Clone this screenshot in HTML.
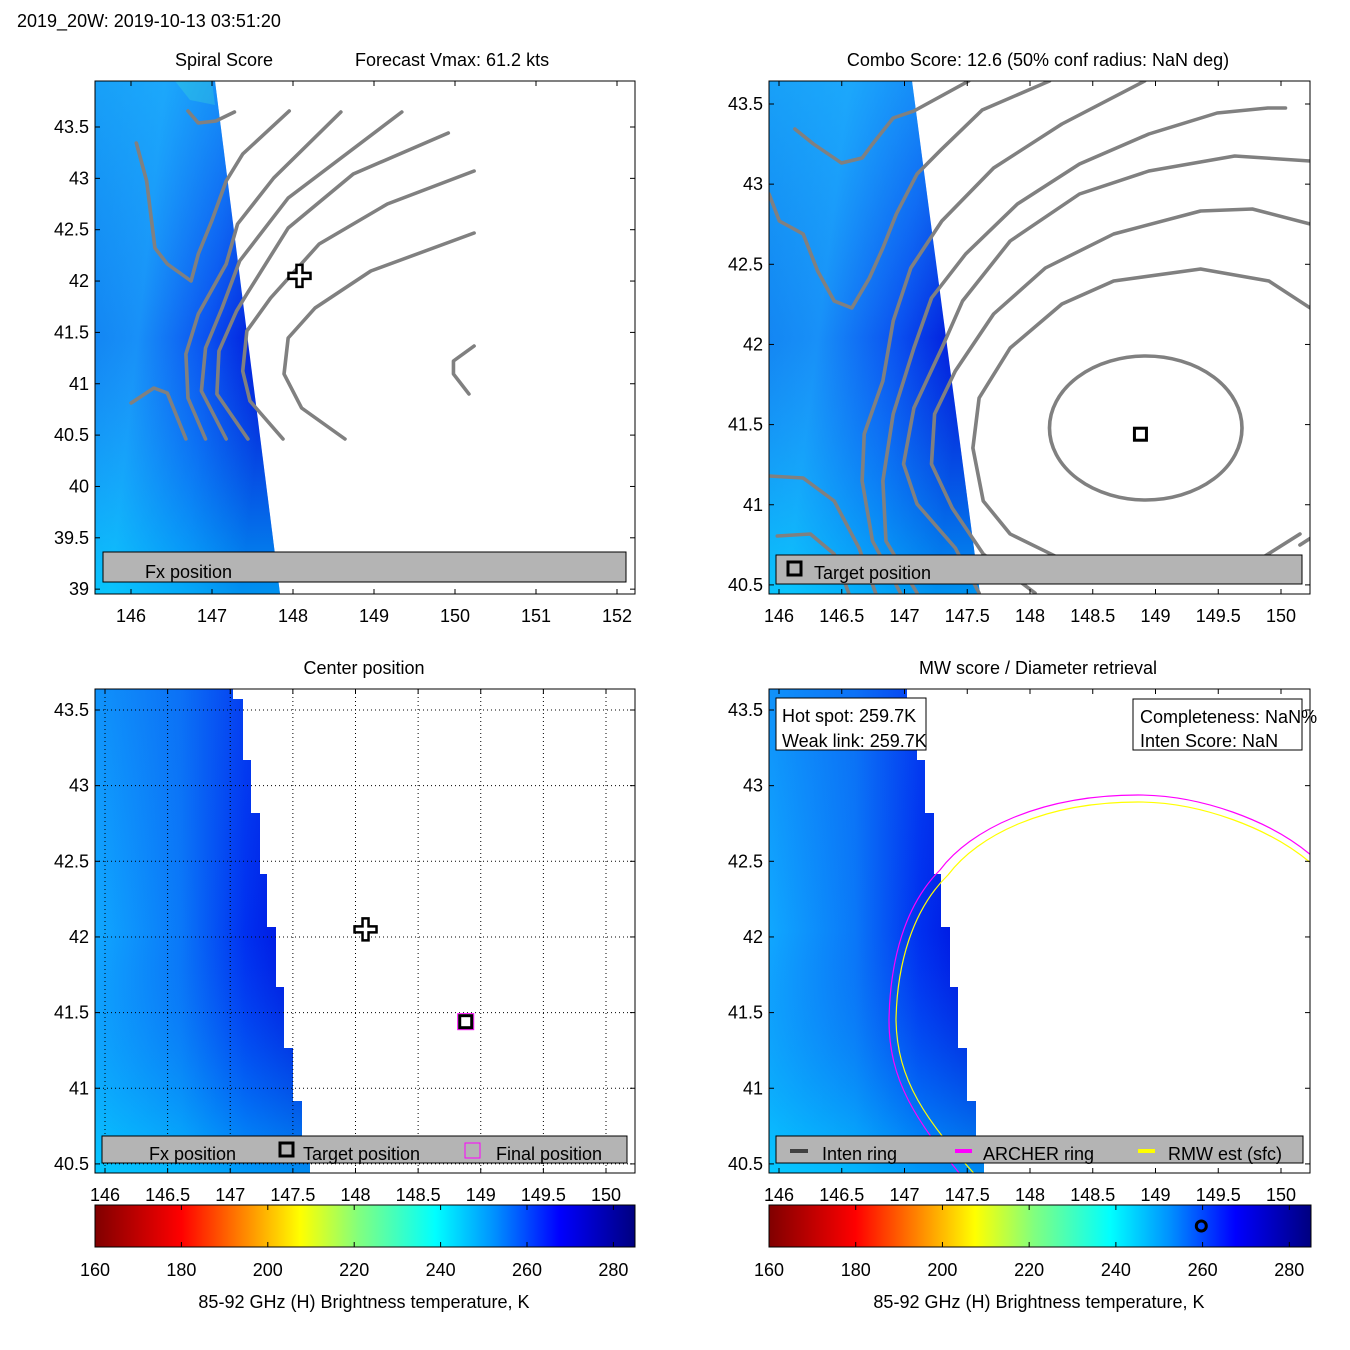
<!DOCTYPE html>
<html><head><meta charset="utf-8">
<style>
html,body{margin:0;padding:0;background:#fff;}
svg{display:block;font-family:"Liberation Sans",Arial,sans-serif;}
text{fill:#000;}
</style></head>
<body>
<svg id="fig" width="1350" height="1350" viewBox="0 0 1350 1350" xmlns="http://www.w3.org/2000/svg">
<defs>
<linearGradient id="jet" x1="0" y1="0" x2="1" y2="0">
<stop offset="0" stop-color="#800000"/><stop offset="0.16" stop-color="#ff0000"/>
<stop offset="0.27" stop-color="#ff8000"/><stop offset="0.38" stop-color="#ffff00"/>
<stop offset="0.49" stop-color="#80ff80"/><stop offset="0.63" stop-color="#00ffff"/>
<stop offset="0.74" stop-color="#0090ff"/><stop offset="0.86" stop-color="#0000ff"/>
<stop offset="1" stop-color="#000080"/></linearGradient>
<linearGradient id="sw1" x1="0" y1="0" x2="1" y2="0.3">
<stop offset="0" stop-color="#1080f0"/><stop offset="0.35" stop-color="#1890f8"/>
<stop offset="0.7" stop-color="#0a50f0"/><stop offset="1" stop-color="#0010d8"/></linearGradient>
<linearGradient id="sw1b" x1="0" y1="0" x2="0" y2="1">
<stop offset="0" stop-color="#20c0ff" stop-opacity="0.5"/><stop offset="0.5" stop-color="#20c0ff" stop-opacity="0"/>
<stop offset="1" stop-color="#00e8ff" stop-opacity="0.6"/></linearGradient>
<linearGradient id="sw3" x1="0" y1="0" x2="1" y2="0">
<stop offset="0" stop-color="#10a8ff"/><stop offset="0.4" stop-color="#0a78f8"/>
<stop offset="0.7" stop-color="#0030f0"/><stop offset="1" stop-color="#0008d8"/></linearGradient>
<linearGradient id="sw3b" x1="0" y1="0" x2="0" y2="1">
<stop offset="0" stop-color="#1060f0" stop-opacity="0.3"/><stop offset="0.5" stop-color="#1060f0" stop-opacity="0"/>
<stop offset="1" stop-color="#00e0ff" stop-opacity="0.6"/></linearGradient>
<clipPath id="c1"><rect x="95" y="81" width="540" height="513"/></clipPath>
<clipPath id="c2"><rect x="769" y="81" width="541" height="513"/></clipPath>
<clipPath id="c3"><rect x="95" y="689" width="540" height="484"/></clipPath>
<clipPath id="c4"><rect x="769" y="689" width="541" height="484"/></clipPath>
</defs>

<text x="17" y="27" font-size="18">2019_20W: 2019-10-13 03:51:20</text>
<text x="175" y="66" font-size="18">Spiral Score</text>
<text x="355" y="66" font-size="18">Forecast Vmax: 61.2 kts</text>
<text x="1038" y="66" font-size="18" text-anchor="middle">Combo Score: 12.6  (50% conf radius: NaN deg)</text>
<text x="364" y="674" font-size="18" text-anchor="middle">Center position</text>
<text x="1038" y="674" font-size="18" text-anchor="middle">MW score / Diameter retrieval</text>

<!-- Panel 1 swath -->
<g clip-path="url(#c1)">
<polygon points="95,81 215,81 280,594 95,594" fill="url(#sw1)"/>
<polygon points="95,81 215,81 280,594 95,594" fill="url(#sw1b)"/>
<polygon points="175,81 212,81 215,105 190,100" fill="#40e0d0" opacity="0.3"/>
</g>
<g clip-path="url(#c1)">
<g transform="translate(95,0) scale(1.033,1) translate(-95,0)" fill="none" stroke="#808080" stroke-width="3.5" stroke-linejoin="round" stroke-linecap="round">
<polyline points="185,111 195,123 212,121 230,112"/>
<polyline points="135,143 145,181 153,248 165,264 188,281 195,254 208,221 222,181 238,154 283,111"/>
<polyline points="130,403 152,388 165,393 183,439"/>
<polyline points="202,439 185,398 183,354 195,314 222,264 233,224 268,178 333,112"/>
<polyline points="222,439 198,391 202,348 218,308 235,261 282,198 392,112"/>
<polyline points="243,439 213,394 215,351 232,311 242,294 282,228 345,174 437,133"/>
<polyline points="277,439 245,401 238,371 242,331 265,298 312,244 378,204 462,171"/>
<polyline points="337,439 295,408 278,374 282,338 308,308 362,271 462,233"/>
<polyline points="462,346 442,361 442,374 457,394"/>
</g></g>

<!-- Panel 2 swath -->
<g clip-path="url(#c2)">
<polygon points="769,81 912,81 980,594 769,594" fill="url(#sw1)"/>
<polygon points="769,81 912,81 980,594 769,594" fill="url(#sw1b)"/>
</g>
<g clip-path="url(#c2)">
<g transform="translate(769,0) scale(1.035,1) translate(-769,0)" fill="none" stroke="#808080" stroke-width="3.5" stroke-linejoin="round" stroke-linecap="round">
<ellipse cx="1133" cy="428" rx="93" ry="72"/>
<polyline points="1282,534 1236,564 1152,579 1069,568 1002,534 976,501 966,448 972,398 1002,348 1052,304 1102,281 1186,269 1252,281 1292,308 1312,325"/>
<polyline points="1026,593 976,554 946,508 926,464 929,414 949,371 986,314 1036,268 1102,234 1186,211 1236,209 1292,224 1312,228"/>
<polyline points="972,593 949,548 912,504 899,464 909,408 936,348 956,301 1002,241 1069,194 1136,171 1219,156 1292,161 1312,162"/>
<polyline points="912,593 882,541 879,481 889,414 909,348 926,298 959,254 1009,204 1069,164 1136,134 1202,113 1251,108 1268,108"/>
<polyline points="896,593 869,541 859,481 861,434 879,381 889,321 906,268 936,221 986,168 1052,124 1132,81"/>
<polyline points="769,476 802,478 832,501 856,548 872,593"/>
<polyline points="777,536 809,534 832,554 846,593"/>
<polyline points="794,129 812,144 839,163 859,158 869,144 889,118 909,111 962,81"/>
<polyline points="769,194 779,221 802,234 816,271 832,301 849,308 866,278 879,248 892,214 912,174 935,150 975,110 1040,81"/>
<polyline points="1282,545 1300,533"/>
</g></g>

<!-- Panel 3 swath -->
<g clip-path="url(#c3)">
<polygon points="95,689 233,689 233,699 243,699 243,760 251,760 251,813 260,813 260,874 267,874 267,927 276,927 276,987 284,987 284,1048 293,1048 293,1101 302,1101 302,1136 310,1136 310,1173 95,1173" fill="url(#sw3)"/>
<polygon points="95,689 233,689 233,699 243,699 243,760 251,760 251,813 260,813 260,874 267,874 267,927 276,927 276,987 284,987 284,1048 293,1048 293,1101 302,1101 302,1136 310,1136 310,1173 95,1173" fill="url(#sw3b)"/>
</g>
<g id="grid3"></g>

<!-- Panel 4 swath -->
<g clip-path="url(#c4)">
<polygon points="769,689 907,689 907,699 917,699 917,760 925,760 925,813 934,813 934,874 941,874 941,927 950,927 950,987 958,987 958,1048 967,1048 967,1101 976,1101 976,1136 984,1136 984,1173 769,1173" fill="url(#sw3)"/>
<polygon points="769,689 907,689 907,699 917,699 917,760 925,760 925,813 934,813 934,874 941,874 941,927 950,927 950,987 958,987 958,1048 967,1048 967,1101 976,1101 976,1136 984,1136 984,1173 769,1173" fill="url(#sw3b)"/>
</g>
<g clip-path="url(#c4)" fill="none" stroke-width="1.2">
<path d="M1312,856 C1270,820 1200,795 1138,795 C1040,795 970,830 940,870 C905,905 890,960 889,1020 C889,1080 915,1120 965,1180" stroke="#ff00ff"/>
<path d="M1312,864 C1270,828 1200,802 1138,802 C1045,802 978,835 948,875 C912,910 897,965 896,1020 C897,1080 925,1120 980,1180" stroke="#ffff00"/>
</g>

<g id="marks"></g>
<g id="axes"></g>

<!-- legends -->
<g>
<rect x="103" y="552" width="523" height="30" fill="#b4b4b4" stroke="#000" stroke-width="1"/>
<text x="145" y="578" font-size="18">Fx position</text>
</g>
<g>
<rect x="776" y="555" width="526" height="29" fill="#b4b4b4" stroke="#000" stroke-width="1"/>
<rect x="788" y="562" width="13" height="13" fill="#b4b4b4" stroke="#000" stroke-width="3"/>
<text x="814" y="579" font-size="18">Target position</text>
</g>
<g>
<rect x="102" y="1136" width="525" height="27" fill="#b4b4b4" stroke="#000" stroke-width="1"/>
<text x="149" y="1160" font-size="18">Fx position</text>
<rect x="280" y="1143" width="13" height="13" fill="#b4b4b4" stroke="#000" stroke-width="3"/>
<text x="303" y="1160" font-size="18">Target position</text>
<rect x="465" y="1143" width="15" height="15" fill="none" stroke="#ff00ff" stroke-width="1"/>
<text x="496" y="1160" font-size="18">Final position</text>
</g>
<g>
<rect x="776" y="1136" width="527" height="27" fill="#b4b4b4" stroke="#000" stroke-width="1"/>
<rect x="790" y="1149" width="18" height="4" fill="#404040"/>
<text x="822" y="1160" font-size="18">Inten ring</text>
<rect x="955" y="1149" width="17" height="4" fill="#ff00ff"/>
<text x="983" y="1160" font-size="18">ARCHER ring</text>
<rect x="1138" y="1149" width="17" height="4" fill="#ffff00"/>
<text x="1168" y="1160" font-size="18">RMW est (sfc)</text>
</g>
<g>
<rect x="776" y="698" width="150" height="52" fill="#fff" stroke="#000" stroke-width="1"/>
<text x="782" y="722" font-size="18">Hot spot: 259.7K</text>
<text x="782" y="747" font-size="18">Weak link: 259.7K</text>
</g>
<g>
<rect x="1133" y="699" width="169" height="51" fill="#fff" stroke="#000" stroke-width="1"/>
<text x="1140" y="723" font-size="18">Completeness: NaN%</text>
<text x="1140" y="747" font-size="18">Inten Score: NaN</text>
</g>

<!-- colorbars -->
<rect x="95" y="1205" width="540" height="42" fill="url(#jet)" stroke="#000" stroke-width="1"/>
<rect x="769" y="1205" width="542" height="42" fill="url(#jet)" stroke="#000" stroke-width="1"/>
<g id="cb"></g>
<text x="364" y="1308" font-size="18" text-anchor="middle">85-92 GHz (H) Brightness temperature, K</text>
<text x="1039" y="1308" font-size="18" text-anchor="middle">85-92 GHz (H) Brightness temperature, K</text>
</svg>
<script>
const xTicks1 = [146,147,148,149,150,151,152];
const yTicks1 = [39,39.5,40,40.5,41,41.5,42,42.5,43,43.5];
const xTicks2 = [146,146.5,147,147.5,148,148.5,149,149.5,150];
const yTicks2 = [40.5,41,41.5,42,42.5,43,43.5];
const cbTicks = [160,180,200,220,240,260,280];
const fxLon = [148.08], fxLat = [42.05];
const tgtLon = [148.88], tgtLat = [41.44];
const hotSpotK = [259.7];

const NS='http://www.w3.org/2000/svg';
function mk(tag, attrs, parent){const e=document.createElementNS(NS,tag);for(const k in attrs)e.setAttribute(k,attrs[k]);parent.appendChild(e);return e;}
const P = [
 {x0:95,y0:81,w:540,h:513,lx:146,px:131,sx:81,ly:43.5,py:127,sy:102.7,xt:xTicks1,yt:yTicks1,grid:false,id:'spiral'},
 {x0:769,y0:81,w:541,h:513,lx:146,px:779,sx:125.5,ly:43.5,py:104,sy:160.3,xt:xTicks2,yt:yTicks2,grid:false,id:'combo'},
 {x0:95,y0:689,w:540,h:484,lx:146,px:105,sx:125.25,ly:43.5,py:710,sy:151.3,xt:xTicks2,yt:yTicks2,grid:true,id:'center'},
 {x0:769,y0:689,w:541,h:484,lx:146,px:779,sx:125.5,ly:43.5,py:710,sy:151.3,xt:xTicks2,yt:yTicks2,grid:false,id:'mw'}
];
function X(p,v){return p.px+(v-p.lx)*p.sx;}
function Y(p,v){return p.py-(v-p.ly)*p.sy;}
const ax=document.getElementById('axes');
const g3=document.getElementById('grid3');
P.forEach(p=>{
  const box=mk('rect',{x:p.x0,y:p.y0,width:p.w,height:p.h,fill:'none',stroke:'#000','stroke-width':1},ax);
  
  
  p.xt.forEach(v=>{
    const x=X(p,v);
    mk('line',{x1:x,y1:p.y0,x2:x,y2:p.y0+5,stroke:'#000'},ax);
    mk('line',{x1:x,y1:p.y0+p.h,x2:x,y2:p.y0+p.h-5,stroke:'#000'},ax);
    if(p.grid) mk('line',{x1:x,y1:p.y0,x2:x,y2:p.y0+p.h,stroke:'#000','stroke-dasharray':'1,3'},g3);
    const t=mk('text',{x:x,y:p.y0+p.h+28,'font-size':18,'text-anchor':'middle'},ax);
    t.textContent=v;
    
    
  });
  p.yt.forEach(v=>{
    const y=Y(p,v);
    mk('line',{x1:p.x0,y1:y,x2:p.x0+5,y2:y,stroke:'#000'},ax);
    mk('line',{x1:p.x0+p.w,y1:y,x2:p.x0+p.w-5,y2:y,stroke:'#000'},ax);
    if(p.grid) mk('line',{x1:p.x0,y1:y,x2:p.x0+p.w,y2:y,stroke:'#000','stroke-dasharray':'1,3'},g3);
    const t=mk('text',{x:p.x0-6,y:y+6,'font-size':18,'text-anchor':'end'},ax);
    t.textContent=v;
    
    
  });
});
const mg=document.getElementById('marks');
function plus(cx,cy,parent){
  const d=`M${cx-3},${cy-11}h6v8h8v6h-8v8h-6v-8h-8v-6h8z`;
  const e=mk('path',{d:d,fill:'#fff',stroke:'#000','stroke-width':2.5},parent);
  
  
}
function sq(cx,cy,parent,mag){
  if(mag){const m=mk('rect',{x:cx-8,y:cy-8,width:16,height:16,fill:'none',stroke:'#ff00ff','stroke-width':1},parent);
    
    }
  const e=mk('rect',{x:cx-6,y:cy-6,width:12,height:12,fill:'#fff',stroke:'#000','stroke-width':3},parent);
  
  
}
plus(X(P[0],fxLon[0]),Y(P[0],fxLat[0]),mg);
sq(X(P[1],tgtLon[0]),Y(P[1],tgtLat[0]),mg,false);
plus(X(P[2],fxLon[0]),Y(P[2],fxLat[0]),mg);
sq(X(P[2],tgtLon[0]),Y(P[2],tgtLat[0]),mg,true);
// legend icons
plus(124,567,mg);
plus(125,1150,mg);

const cb=document.getElementById('cb');
[[95,540],[769,542]].forEach(([x0,w])=>{
  const s=w/125;
  cbTicks.forEach(v=>{
    const x=x0+(v-160)*s;
    mk('line',{x1:x,y1:1205,x2:x,y2:1210,stroke:'#000'},cb);
    mk('line',{x1:x,y1:1247,x2:x,y2:1242,stroke:'#000'},cb);
    const t=mk('text',{x:x,y:1276,'font-size':18,'text-anchor':'middle'},cb);
    t.textContent=v;
    
    
  });
});
const hs=mk('circle',{cx:769+(hotSpotK[0]-160)*542/125,cy:1226,r:5,fill:'none',stroke:'#000','stroke-width':3},cb);


</script>
</body></html>
